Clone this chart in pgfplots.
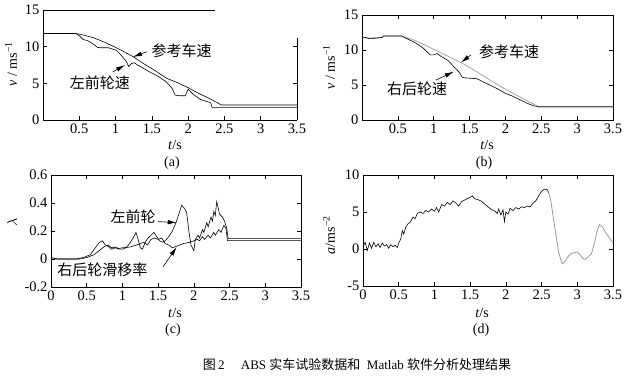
\documentclass[border=0pt]{standalone}
\usepackage{pgfplots}
\pgfplotsset{compat=1.18}
\usepackage{fontspec}
\setmainfont{Liberation Serif}
\newfontfamily\cjk{Noto Sans CJK SC}
\usetikzlibrary{arrows.meta}
\pgfplotsset{
  mystyle/.style={scale only axis, xmin=0, xmax=3.5, clip=false,
    tick align=inside, tick pos=both,
    ticklabel style={font=\fontsize{14.5}{14.5}\selectfont},
    /pgf/number format/assume math mode=true,
    axis line style={line width=0.6pt},
    every tick/.style={black, line width=0.5pt},
    major tick length=4pt,
    every axis plot/.append style={line width=0.6pt}},
}
\tikzset{arr/.style={-{Latex[length=9pt,width=4.5pt]}, line width=0.6pt},
  lab/.style={font=\fontsize{15}{15}\selectfont\cjk}}
\begin{document}
\begin{tikzpicture}
\path[use as bounding box] (0pt,0pt) rectangle (634pt,377pt);
% (a)
\begin{axis}[mystyle, at={(43pt,257pt)}, anchor=south west, width=254pt, height=110pt,
  ymin=0, ymax=15, ytick={0,5,10,15}, xtick={0.5,1,...,3.5},
  axis x line*=bottom, axis y line*=left]
\addplot[black] coordinates {(0,11.8)(0.45,11.8)(0.55,11.6)(0.7,11.2)(0.85,10.6)(1.0,9.9)(1.1,9.4)(1.24,8.65)(1.4,7.6)(1.55,6.7)(1.7,5.7)(1.85,5.1)(2.0,4.4)(2.15,3.6)(2.3,2.9)(2.46,2.05)(2.5,2.05)(3.5,2.05)};
\addplot[black] coordinates {(0,11.8)(0.45,11.8)(0.5,11.5)(0.55,11.0)(0.62,10.8)(0.7,10.3)(0.75,9.9)(0.8,9.85)(0.9,9.85)(0.95,9.7)(1.01,9.5)(1.08,8.8)(1.15,7.95)(1.18,7.3)(1.22,7.7)(1.26,7.8)(1.3,7.5)(1.34,7.3)(1.46,6.6)(1.58,6.0)(1.70,5.2)(1.78,4.3)(1.82,3.4)(1.88,3.3)(1.96,3.3)(2.0,4.2)(2.07,3.5)(2.17,2.8)(2.31,2.36)(2.33,1.73)(3.5,1.73)};
\draw[line width=0.6pt] (axis cs:0,15) -- (axis cs:2.37,15);
\draw[line width=0.6pt] (axis cs:3.5,0) -- (axis cs:3.5,11.2);
\draw[line width=0.5pt] (axis cs:3.5,10) -- ++(-4pt,0) (axis cs:3.5,5) -- ++(-4pt,0);
\node[lab] at (axis cs:1.91,9.5) {参考车速};
\draw[arr] (axis cs:1.43,9.3) -- (axis cs:1.24,8.6);
\node[lab] at (axis cs:0.785,5.05) {左前轮速};
\draw[arr] (axis cs:0.96,6.55) -- (axis cs:1.13,7.5);
\end{axis}
% (b)
\begin{axis}[mystyle, at={(362pt,257pt)}, anchor=south west, width=251pt, height=105pt,
  ymin=0, ymax=15, ytick={0,5,10,15}, xtick={0.5,1,...,3.5}]
\addplot[gray!70, line width=0.8pt] coordinates {(0,11.8)(0.1,11.7)(0.28,11.8)(0.3,12.0)(0.55,12.0)(0.65,11.7)(0.8,11.1)(1.0,10.1)(1.2,9.1)(1.4,8.1)(1.6,6.9)(1.8,5.6)(2.0,4.4)(2.2,3.3)(2.44,2.0)(2.47,1.75)(3.5,1.75)};
\addplot[black] coordinates {(0,11.8)(0.05,11.8)(0.1,11.6)(0.2,11.7)(0.28,11.8)(0.3,12.0)(0.55,12.0)(0.65,11.5)(0.75,11.0)(0.85,10.3)(0.92,9.6)(0.95,9.3)(1.0,9.3)(1.05,9.5)(1.1,9.1)(1.2,8.5)(1.3,7.4)(1.35,6.9)(1.4,6.1)(1.45,6.0)(1.6,5.9)(1.7,5.4)(1.8,4.9)(1.9,4.4)(2.0,3.8)(2.1,3.4)(2.2,2.9)(2.3,2.4)(2.4,2.0)(2.45,1.95)(3.5,1.95)};
\node[lab] at (axis cs:2.05,9.7) {参考车速};
\draw[arr] (axis cs:1.52,9.3) -- (axis cs:1.38,8.2);
\node[lab] at (axis cs:0.77,4.4) {右后轮速};
\draw[arr] (axis cs:1.03,5.7) -- (axis cs:1.28,6.9);
\end{axis}
% (c)
\begin{axis}[mystyle, at={(51pt,90pt)}, anchor=south west, width=250pt, height=112pt,
  ymin=-0.2, ymax=0.6, ytick={-0.2,0,0.2,0.4,0.6}, xtick={0,0.5,...,3.5},
  yticklabel style={/pgf/number format/fixed}]
\addplot[black] coordinates {(0,0.01)(0.05,0.005)(0.1,0)(0.35,0)(0.45,0.01)(0.55,0.03)(0.62,0.08)(0.68,0.12)(0.72,0.13)(0.76,0.1)(0.8,0.09)(0.85,0.07)(0.9,0.08)(0.95,0.07)(1.0,0.07)(1.05,0.08)(1.1,0.11)(1.15,0.15)(1.19,0.19)(1.22,0.14)(1.25,0.08)(1.28,0.07)(1.32,0.12)(1.36,0.15)(1.4,0.17)(1.44,0.19)(1.48,0.16)(1.52,0.13)(1.56,0.12)(1.6,0.13)(1.65,0.16)(1.7,0.2)(1.75,0.26)(1.79,0.32)(1.83,0.385)(1.87,0.36)(1.9,0.33)(1.93,0.2)(1.96,0.1)(2.0,0.06)(2.02,0.14)(2.06,0.17)(2.08,0.15)(2.12,0.21)(2.14,0.19)(2.18,0.26)(2.2,0.23)(2.24,0.3)(2.26,0.27)(2.28,0.34)(2.3,0.31)(2.32,0.41)(2.36,0.32)(2.4,0.3)(2.43,0.27)(2.46,0.22)(2.48,0.146)(3.5,0.146)};
\addplot[black] coordinates {(0,0)(0.4,0)(0.5,0.01)(0.6,0.03)(0.7,0.07)(0.75,0.09)(0.8,0.1)(0.85,0.08)(0.9,0.085)(0.95,0.075)(1.0,0.08)(1.1,0.085)(1.2,0.1)(1.3,0.12)(1.35,0.1)(1.4,0.14)(1.45,0.15)(1.5,0.14)(1.55,0.15)(1.6,0.11)(1.65,0.1)(1.7,0.08)(1.75,0.09)(1.8,0.1)(1.85,0.11)(1.9,0.115)(1.95,0.12)(2.0,0.13)(2.05,0.14)(2.08,0.13)(2.12,0.16)(2.15,0.14)(2.2,0.17)(2.23,0.15)(2.28,0.19)(2.3,0.17)(2.35,0.21)(2.38,0.19)(2.42,0.24)(2.45,0.22)(2.47,0.131)(3.5,0.131)};
\node[lab] at (axis cs:1.15,0.30) {左前轮};
\draw[arr] (axis cs:1.5,0.267) -- (axis cs:1.76,0.26);
\node[lab] at (axis cs:0.72,-0.08) {右后轮滑移率};
\draw[arr] (axis cs:1.57,-0.055) -- (axis cs:1.76,0.085);
\end{axis}
% (d)
\begin{axis}[mystyle, at={(363pt,91pt)}, anchor=south west, width=250pt, height=111pt,
  ymin=-5, ymax=10, ytick={-5,0,5,10}, xtick={0,0.5,...,3.5}]
\addplot[black] coordinates {(0,0.3)(0.03,0.9)(0.06,-0.2)(0.09,0.8)(0.12,0.1)(0.15,0.9)(0.18,0.3)(0.21,0.7)(0.24,0.2)(0.27,0.8)(0.3,0.4)(0.33,0.6)(0.36,0.1)(0.39,0.6)(0.42,0.3)(0.45,0.5)(0.48,0.2)(0.5,0.8)(0.53,1.4)(0.55,2.5)(0.57,2.0)(0.6,3.0)(0.63,3.4)(0.66,3.6)(0.7,4.3)(0.73,4.1)(0.76,4.8)(0.8,5.0)(0.84,4.8)(0.88,5.2)(0.92,5.0)(0.96,5.4)(1.0,5.1)(1.03,5.6)(1.06,5.0)(1.1,6.0)(1.14,5.8)(1.18,6.3)(1.22,6.0)(1.26,6.5)(1.3,6.2)(1.34,5.8)(1.38,6.4)(1.42,6.6)(1.46,6.8)(1.5,7.0)(1.53,7.2)(1.56,6.8)(1.6,6.7)(1.65,6.5)(1.7,6.1)(1.75,5.7)(1.8,5.3)(1.85,5.1)(1.88,4.8)(1.9,5.4)(1.93,4.6)(1.96,5.3)(1.98,3.7)(2.0,5.0)(2.03,4.7)(2.06,5.5)(2.1,5.2)(2.14,5.6)(2.18,5.4)(2.22,5.7)(2.26,5.6)(2.3,5.8)(2.34,5.7)(2.38,6.2)(2.42,6.5)(2.46,7.2)(2.5,7.8)(2.54,8.1)(2.58,8.0)(2.6,7.6)};
\addplot[gray!80, line width=0.8pt] coordinates {(2.6,7.6)(2.63,6.5)(2.66,4.5)(2.7,2.0)(2.74,-0.5)(2.78,-1.8)(2.8,-2.0)(2.84,-1.5)(2.88,-0.9)(2.92,-0.6)(2.96,-0.5)(3.0,-0.4)(3.04,-0.8)(3.08,-1.3)(3.11,-1.4)(3.15,-1.1)(3.2,-0.6)(3.24,0.8)(3.28,2.5)(3.31,3.3)(3.35,3.0)(3.4,2.2)(3.45,1.5)(3.5,0.8)};
\end{axis}
% labels
\begin{scope}[every node/.style={font=\fontsize{14}{14}\selectfont}]
\node[rotate=90] at (11pt,313pt) {\textit{v} / ms\textsuperscript{−1}};
\node at (175pt,232pt) {\textit{t}/s};
\node at (172pt,214pt) {(a)};
\node[rotate=90] at (329pt,310pt) {\textit{v} / ms\textsuperscript{−1}};
\node at (487pt,232pt) {\textit{t}/s};
\node at (484pt,214pt) {(b)};
\node[rotate=90] at (12pt,155pt) {$\lambda$};
\node at (175pt,64pt) {\textit{t}/s};
\node at (173pt,47pt) {(c)};
\node[rotate=90] at (329pt,142pt) {\textit{a}/ms\textsuperscript{−2}};
\node at (482pt,64pt) {\textit{t}/s};
\node at (481pt,47pt) {(d)};
\node[font=\fontsize{13}{13}\selectfont] at (357pt,12pt) {{\cjk 图}\,2\quad\ ABS {\cjk 实车试验数据和}\ \ Matlab {\cjk 软件分析处理结果}};
\end{scope}
\end{tikzpicture}
\end{document}
